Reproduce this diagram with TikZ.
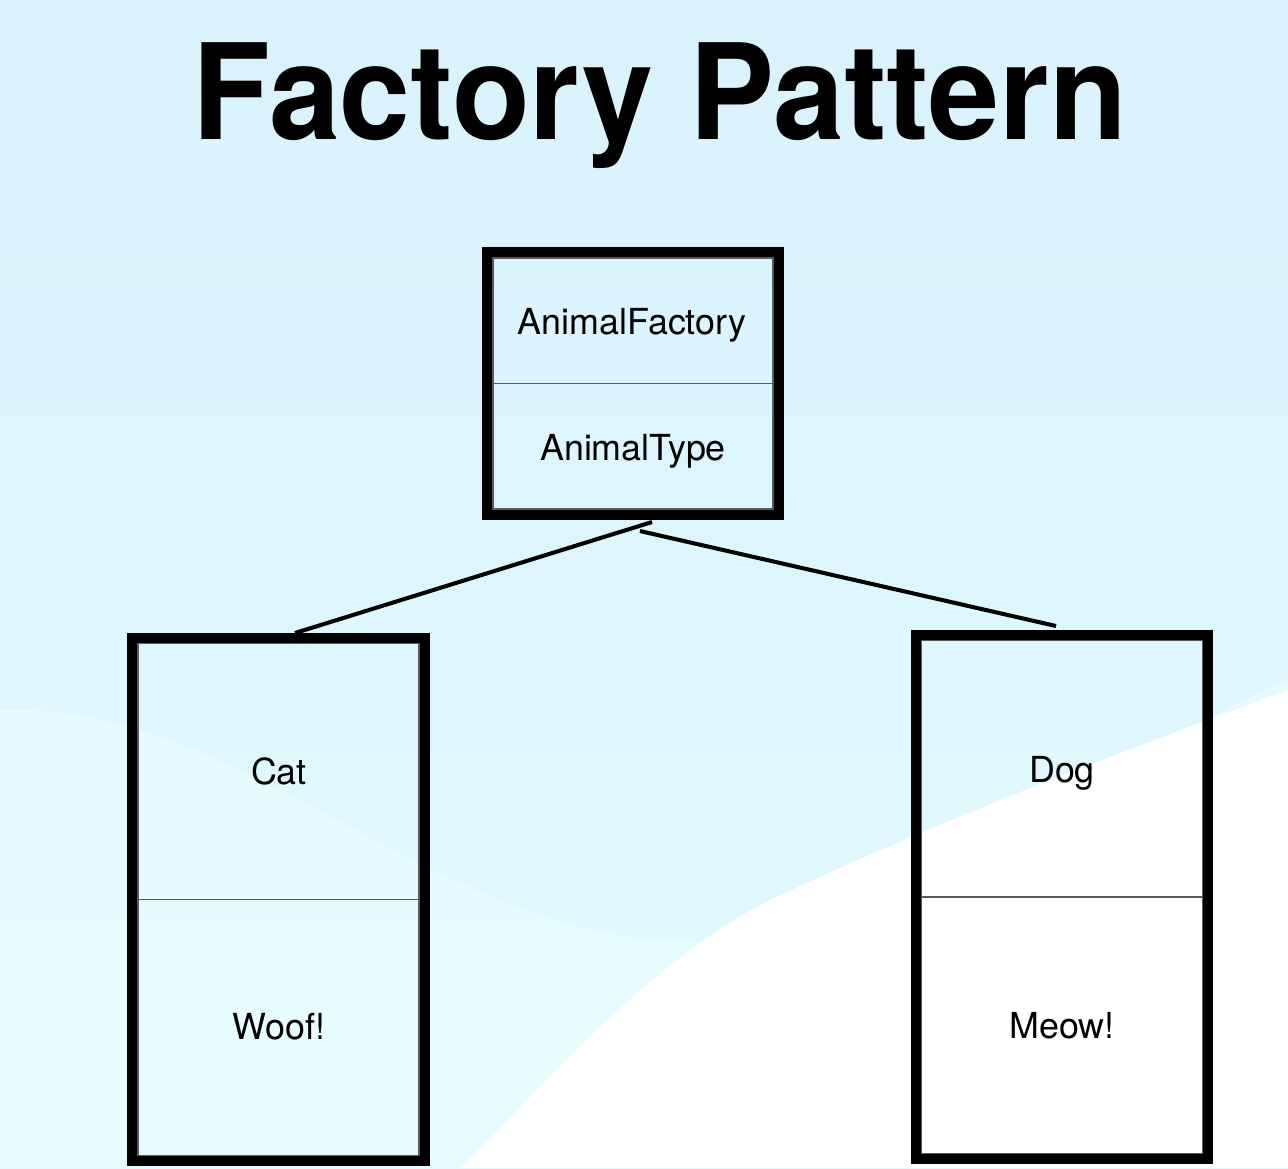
\documentclass[tikz,border=0pt]{standalone}
\usepackage{fontspec}
\setmainfont{TeX Gyre Heros}
\usetikzlibrary{calc}
\definecolor{skytop}{HTML}{D9F2FC}
\definecolor{skybot}{HTML}{E3F9FE}
\definecolor{skylite}{HTML}{E9FDFF}
\definecolor{rimgray}{HTML}{5A5A5A}
\tikzset{
  classbox/.style={draw,line width=3.1pt,minimum width=2.91cm,inner sep=0pt,outer sep=0pt},
  rimline/.style={rimgray,line width=0.3pt},
  divider/.style={rimgray,line width=0.4pt},
  boxtext/.style={font=\fontsize{10.2}{12}\selectfont,anchor=base,inner sep=0pt},
  titletext/.style={font=\fontsize{37.8}{40}\selectfont\bfseries,anchor=base,inner sep=0pt,xscale=0.96},
  link/.style={line width=1.15pt},
}

\begin{document}
\begin{tikzpicture}
      \useasboundingbox (0,0) rectangle (12.88,-11.68);
      \shade[top color=skytop,bottom color=skybot] (0,0) rectangle (12.88,-11.68);
      \fill[skylite,opacity=0.8] (0,-7.1) .. controls (2.5,-7.0) and (4.5,-9.6) .. (7.2,-9.4)
        .. controls (9,-9.3) and (11,-7.6) .. (12.88,-6.8) -- (12.88,-11.68) -- (0,-11.68) -- cycle;
      \fill[white] (12.88,-6.9) .. controls (11,-7.6) and (9.4,-8.2) .. (7.7,-9.0)
        .. controls (6.5,-9.6) and (5.5,-10.8) .. (4.6,-11.68) -- (12.88,-11.68) -- cycle;

      \node[titletext] (title) at (6.60,-1.39) {Factory Pattern};

      \node[classbox,minimum height=2.62cm] (factory) at (6.33,-3.835) {};
      \node[classbox,minimum width=2.92cm,minimum height=5.225cm] (cat) at (2.785,-8.9925) {};
      \node[classbox,minimum width=2.92cm,minimum height=5.24cm] (dog) at (10.62,-8.97) {};

      \foreach \b in {factory,cat,dog} {
        \draw[rimline] ($(\b.north west)+(0.055,-0.055)$) rectangle ($(\b.south east)+(-0.055,0.055)$);
        \draw[divider] ([xshift=0.055cm]\b.west) -- ([xshift=-0.055cm]\b.east);
      }

      \node[boxtext] (factoryname) at (6.32,-3.34) {AnimalFactory};
      \node[boxtext] (factorytype) at (6.33,-4.60) {AnimalType};
      \node[boxtext] (catname) at (2.79,-7.84) {Cat};
      \node[boxtext] (catsound) at (2.79,-10.39) {Woof!};
      \node[boxtext] (dogname) at (10.62,-7.82) {Dog};
      \node[boxtext] (dogsound) at (10.62,-10.38) {Meow!};

      \draw[link] ([xshift=0.19cm,yshift=-0.075cm]factory.south) -- ([xshift=0.165cm,yshift=0.05cm]cat.north);
      \draw[link] ([xshift=0.07cm,yshift=-0.165cm]factory.south) -- ([xshift=-0.06cm,yshift=0.09cm]dog.north);
\end{tikzpicture}
\end{document}
